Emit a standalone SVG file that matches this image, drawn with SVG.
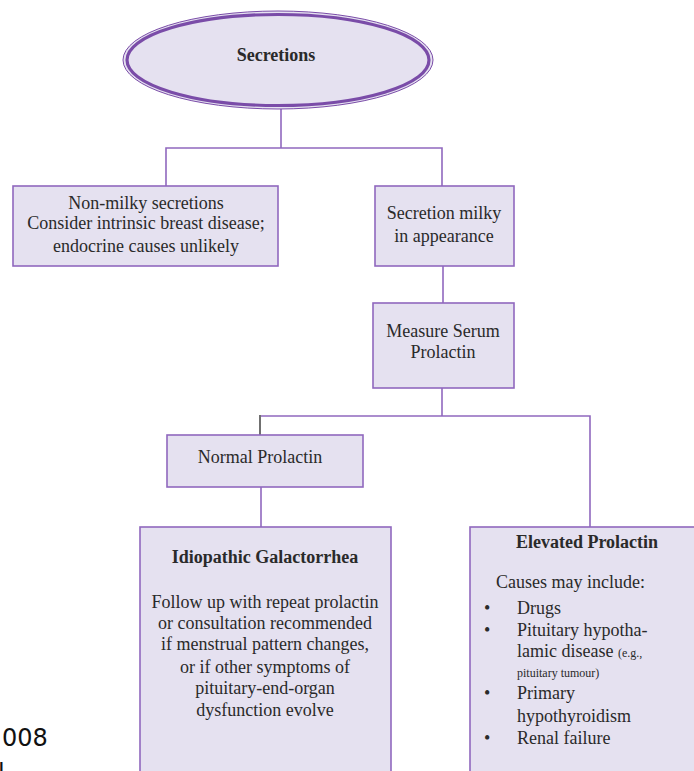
<svg xmlns="http://www.w3.org/2000/svg" width="694" height="771" viewBox="0 0 694 771">
<style>
.box{fill:#E5E1F0;stroke:#9068BE;stroke-width:1.6}
.ln{fill:none;stroke:#9068BE;stroke-width:1.6}
.t{font-family:"Liberation Serif","Times New Roman",serif;font-size:18px;fill:#2a2a2a}
.c{text-anchor:middle}
.b{font-weight:bold}
.s{font-size:12px}
.f{font-family:"DejaVu Sans",Verdana,sans-serif;font-size:24px;fill:#111}
</style>
<rect width="694" height="771" fill="#ffffff"/>
<g id="connectors">
<polyline class="ln" points="281,109 281,148"/>
<polyline class="ln" points="166,186 166,148 442,148 442,186"/>
<polyline class="ln" points="443,266 443,303"/>
<polyline class="ln" points="442,388 442,416"/>
<polyline class="ln" points="260,416 590,416 590,528"/>
<line x1="260" y1="415" x2="260" y2="435" stroke="#707070" stroke-width="2"/>
<polyline class="ln" points="261,487 261,528"/>
</g>
<g id="secretions">
<ellipse cx="278" cy="60" rx="155" ry="49" fill="#E5E1F0" stroke="#7A4CA8" stroke-width="1"/>
<ellipse cx="278" cy="60" rx="151" ry="45.5" fill="#E5E1F0" stroke="#7A4CA8" stroke-width="3.2"/>
<text class="t b c" x="276" y="61">Secretions</text>
</g>
<g id="non-milky">
<rect class="box" x="13" y="186" width="265" height="80"/>
<text class="t c" x="146" y="209">Non-milky secretions</text>
<text class="t c" x="146" y="229">Consider intrinsic breast disease;</text>
<text class="t c" x="146" y="252">endocrine causes unlikely</text>
</g>
<g id="milky">
<rect class="box" x="375" y="186" width="139" height="80"/>
<text class="t c" x="444" y="219">Secretion milky</text>
<text class="t c" x="444" y="242">in appearance</text>
</g>
<g id="measure">
<rect class="box" x="373" y="303" width="141" height="85"/>
<text class="t c" x="443" y="337">Measure Serum</text>
<text class="t c" x="443" y="358">Prolactin</text>
</g>
<g id="normal">
<rect class="box" x="167" y="435" width="196" height="52"/>
<text class="t c" x="260" y="463">Normal Prolactin</text>
</g>
<g id="idiopathic">
<rect class="box" x="140" y="527" width="251" height="260"/>
<text class="t b c" x="265" y="563">Idiopathic Galactorrhea</text>
<text class="t c" x="265" y="608">Follow up with repeat prolactin</text>
<text class="t c" x="265" y="629">or consultation recommended</text>
<text class="t c" x="265" y="650">if menstrual pattern changes,</text>
<text class="t c" x="265" y="673">or if other symptoms of</text>
<text class="t c" x="265" y="694">pituitary-end-organ</text>
<text class="t c" x="265" y="716">dysfunction evolve</text>
</g>
<g id="elevated">
<rect class="box" x="470" y="527" width="240" height="260"/>
<text class="t b c" x="587" y="548">Elevated Prolactin</text>
<text class="t" x="496" y="588">Causes may include:</text>
<text class="t" x="484" y="614">•</text>
<text class="t" x="517" y="614">Drugs</text>
<text class="t" x="484" y="636">•</text>
<text class="t" x="517" y="636">Pituitary hypotha-</text>
<text class="t" x="517" y="657">lamic disease <tspan class="s">(e.g.,</tspan></text>
<text class="t s" x="517" y="677">pituitary tumour)</text>
<text class="t" x="484" y="699">•</text>
<text class="t" x="517" y="699">Primary</text>
<text class="t" x="517" y="722">hypothyroidism</text>
<text class="t" x="484" y="744">•</text>
<text class="t" x="517" y="744">Renal failure</text>
</g>
<text class="f" x="2" y="746">008</text>
<text class="f" x="-2" y="781">l</text>
</svg>
